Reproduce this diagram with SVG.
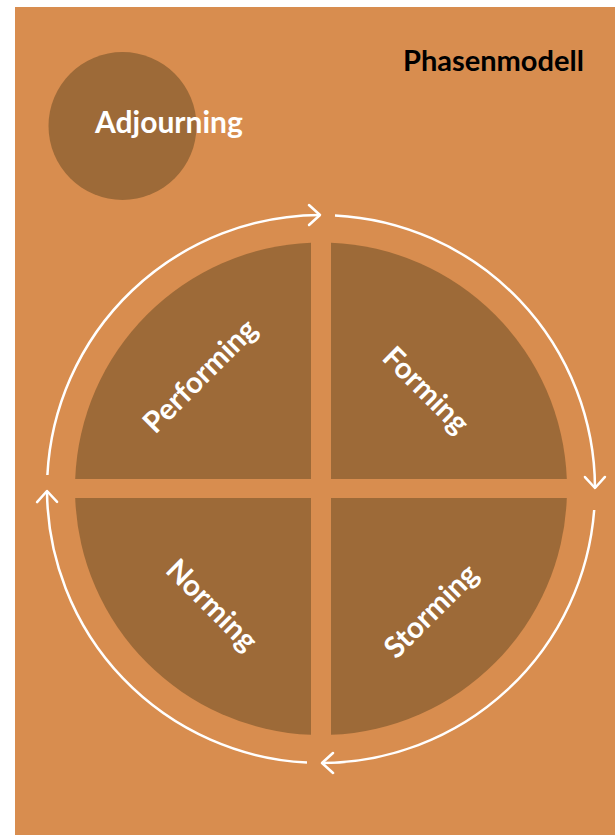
<svg xmlns="http://www.w3.org/2000/svg" width="615" height="835" viewBox="0 0 615 835">
<style>
.q{fill:#9D6A38}
.lbl{font-family:Lato,"Open Sans","Liberation Sans",sans-serif;font-weight:bold;font-size:29.5px;fill:#FFFFFF;text-anchor:middle;dominant-baseline:central}
.arc{fill:none;stroke:#FFFFFF;stroke-width:2.5;marker-end:url(#chev)}
</style>
<defs>
<marker id="chev" markerUnits="userSpaceOnUse" markerWidth="30" markerHeight="30" viewBox="-15 -15 30 30" refX="0" refY="0" orient="auto" overflow="visible">
<path d="M-11,-10 L0,0 L-11,10" fill="none" stroke="#FFFFFF" stroke-width="2.5" stroke-linecap="round" stroke-linejoin="round"/>
</marker>
</defs>
<rect x="15" y="7" width="600" height="828" fill="#D88D4F"/>
<g id="title"><text x="403" y="71" font-family="Lato,'Open Sans','Liberation Sans',sans-serif" font-weight="bold" font-size="29" fill="#000000">Phasenmodell</text></g>
<g id="adjourning">
<circle cx="122.5" cy="126" r="74" class="q"/>
<text x="95" y="133" font-family="Lato,'Open Sans','Liberation Sans',sans-serif" font-weight="bold" font-size="30" fill="#FFFFFF">Adjourning</text>
</g>
<g id="forming">
<path class="q" d="M331,479 L331,242.7 A246 246 0 0 1 566.8,479 Z"/>
<text class="lbl" transform="translate(427,389) rotate(45)">Forming</text>
</g>
<g id="storming">
<path class="q" d="M331,498 L566.8,498 A246 246 0 0 1 331,734.8 Z"/>
<text class="lbl" transform="translate(430,610) rotate(-45)">Storming</text>
</g>
<g id="norming">
<path class="q" d="M311,498 L311,734.8 A246 246 0 0 1 75.2,498 Z"/>
<text class="lbl" transform="translate(213,604) rotate(45)">Norming</text>
</g>
<g id="performing">
<path class="q" d="M311,479 L75.2,479 A246 246 0 0 1 311,242.7 Z"/>
<text class="lbl" transform="translate(199,375) rotate(-45)">Performing</text>
</g>
<g id="connectors">
<path class="arc" d="M47.4,475 A274 274 0 0 1 320,215"/>
<path class="arc" d="M335,215.4 A274 274 0 0 1 595,488"/>
<path class="arc" d="M594.2,510 A274 274 0 0 1 322,763"/>
<path class="arc" d="M307,762.6 A274 274 0 0 1 47,491"/>
</g>
</svg>
